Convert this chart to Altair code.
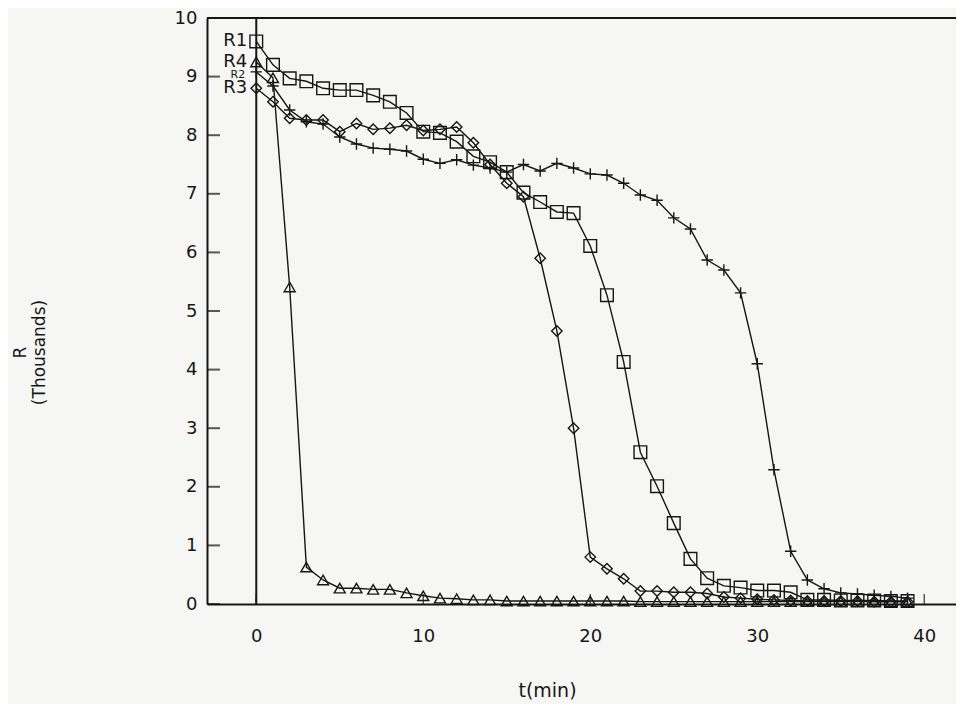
import altair as alt
import pandas as pd

# ---- data ----
t = list(range(40))
R1 = [9.6, 9.2, 8.97, 8.92, 8.8, 8.77, 8.77, 8.68, 8.57, 8.38, 8.06, 8.04, 7.89, 7.64, 7.54,
      7.37, 7.02, 6.86, 6.69, 6.67, 6.11, 5.27, 4.13, 2.59, 2.01, 1.38, 0.77, 0.44, 0.31, 0.28,
      0.23, 0.23, 0.2, 0.07, 0.07, 0.06, 0.06, 0.06, 0.05, 0.05]
R2 = [9.08, 8.84, 8.43, 8.23, 8.19, 7.97, 7.85, 7.78, 7.76, 7.73, 7.59, 7.52, 7.58, 7.49, 7.44,
      7.37, 7.5, 7.39, 7.52, 7.44, 7.34, 7.32, 7.18, 6.98, 6.89, 6.59, 6.4, 5.87, 5.7, 5.31,
      4.1, 2.29, 0.9, 0.41, 0.26, 0.19, 0.17, 0.15, 0.13, 0.1]
R3 = [8.8, 8.57, 8.29, 8.26, 8.26, 8.06, 8.2, 8.1, 8.12, 8.17, 8.08, 8.1, 8.14, 7.87, 7.5,
      7.18, 6.95, 5.9, 4.66, 3.0, 0.8, 0.6, 0.43, 0.22, 0.22, 0.2, 0.2, 0.18, 0.12, 0.1,
      0.08, 0.07, 0.06, 0.05, 0.05, 0.05, 0.05, 0.04, 0.04, 0.04]
R4 = [9.25, 8.98, 5.41, 0.63, 0.41, 0.27, 0.27, 0.25, 0.25, 0.19, 0.14, 0.1, 0.09, 0.07, 0.07,
      0.05, 0.05, 0.05, 0.05, 0.05, 0.05, 0.05, 0.05, 0.04, 0.04, 0.04, 0.04, 0.04, 0.04, 0.04,
      0.04, 0.04, 0.04, 0.04, 0.04, 0.04, 0.04, 0.04, 0.04, 0.04]
series_names = ["R1", "R2", "R3", "R4"]
y_ticks = list(range(11))
x_ticks = [0, 10, 20, 30, 40]
ref_t = [0]

# ---- styles ----
INK = "#161616"
FONT = "DejaVu Sans"
W, H = 749, 586
shapes = {
    "R1": ("square", 160),
    "R2": ("M-1,0H1M0,-1V1", 130),
    "R3": ("diamond", 110),
    "R4": ("triangle-up", 120),
}

series_vals = [R1, R2, R3, R4]
rows = []
for name, vals in zip(series_names, series_vals):
    for ti, v in zip(t, vals):
        rows.append({"series": name, "t": ti, "R": v})
df = pd.DataFrame(rows)

x_scale = alt.Scale(domain=[-2.95, 41.9], nice=False, zero=False)
y_scale = alt.Scale(domain=[0, 10], nice=False)

x_axis = alt.Axis(values=x_ticks, ticks=False, grid=False, domain=True, domainColor=INK,
                  domainWidth=2, labelFont=FONT, labelFontSize=18, labelColor=INK,
                  labelPadding=23, title="t(min)", titleFont=FONT, titleFontSize=19,
                  titleFontWeight="normal", titleColor=INK, titleX=340, titleY=92,
                  titleAlign="center", titleBaseline="alphabetic")
y_axis = alt.Axis(values=y_ticks, format="d", ticks=False, grid=False, domain=True,
                  domainColor=INK, domainWidth=2, labelFont=FONT, labelFontSize=18,
                  labelColor=INK, labelPadding=10, title=["R", "(Thousands)"],
                  titleFont=FONT, titleFontSize=17, titleFontWeight="normal",
                  titleColor=INK, titleAngle=270, titleX=-187, titleY=334,
                  titleAlign="center", titleBaseline="middle", titleLineHeight=19)

X = alt.X("t:Q", scale=x_scale, axis=x_axis)
Y = alt.Y("R:Q", scale=y_scale, axis=y_axis)

layers = []
for name in series_names:
    sub = df[df.series == name]
    shp, sz = shapes[name]
    layers.append(alt.Chart(sub).mark_line(color=INK, strokeWidth=1.4).encode(x=X, y=Y))
    layers.append(alt.Chart(sub).mark_point(shape=shp, size=sz, filled=False, color=INK,
                                            strokeWidth=1.4, opacity=1).encode(x=X, y=Y))

# vertical reference line at t = 0
ref = alt.Chart(pd.DataFrame({"t": ref_t})).mark_rule(color=INK, strokeWidth=2).encode(
    x=X, y=alt.value(0), y2=alt.value(H))

# top frame line
top = alt.Chart(pd.DataFrame({"t": ref_t})).mark_rule(color=INK, strokeWidth=2).encode(
    x=alt.value(0), x2=alt.value(W), y=alt.value(0))

# inward ticks
ytk = alt.Chart(pd.DataFrame({"R": y_ticks})).mark_tick(color=INK, thickness=2, size=13).encode(
    y=Y, x=alt.value(6.5))
xtk = alt.Chart(pd.DataFrame({"t": x_ticks})).mark_tick(color=INK, thickness=1.5, size=10).encode(
    x=X, y=alt.value(H - 5))

# series labels at their first point (R2 is squeezed between R4 and R3)
lab_df = pd.DataFrame({"series": series_names, "t": [t[0]] * 4,
                       "R": [v[0] for v in series_vals]})
main_lab = lab_df[lab_df.series != "R2"]
small_lab = lab_df[lab_df.series == "R2"]
labels = alt.Chart(main_lab).mark_text(align="right", baseline="middle", dx=-9, font=FONT,
                                       fontSize=18, color=INK).encode(x=X, y=Y, text="series:N")
labels2 = alt.Chart(small_lab).mark_text(align="right", baseline="middle", dx=-11, dy=3,
                                         font=FONT, fontSize=11, color=INK).encode(
    x=X, y=Y, text="series:N")

chart = alt.layer(ref, top, ytk, xtk, *layers, labels, labels2).properties(
    width=W, height=H,
    autosize=alt.AutoSizeParams(type="none"),
    padding={"left": 199, "top": 10, "right": 0, "bottom": 100},
    background="#f6f6f4",
).configure_view(strokeWidth=0)

chart.save("out.html", embed_options={"renderer": "svg", "actions": False})
